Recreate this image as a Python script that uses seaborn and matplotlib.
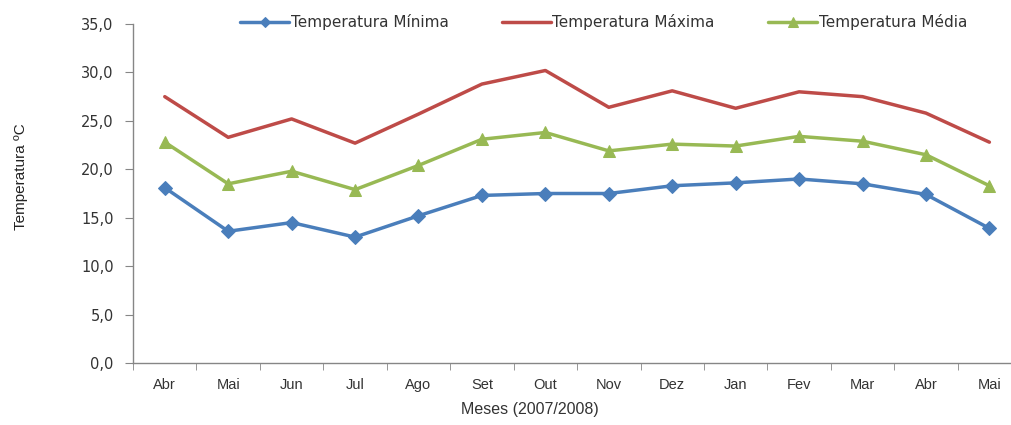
import matplotlib
matplotlib.use('Agg')
import matplotlib.pyplot as plt
import seaborn as sns
import pandas as pd
from matplotlib.ticker import FuncFormatter, MultipleLocator

meses = ['Abr', 'Mai', 'Jun', 'Jul', 'Ago', 'Set', 'Out', 'Nov', 'Dez',
         'Jan', 'Fev', 'Mar', 'Abr', 'Mai']
t_min = [18.1, 13.6, 14.5, 13.0, 15.2, 17.3, 17.5, 17.5, 18.3, 18.6, 19.0, 18.5, 17.4, 13.9]
t_max = [27.5, 23.3, 25.2, 22.7, 25.7, 28.8, 30.2, 26.4, 28.1, 26.3, 28.0, 27.5, 25.8, 22.8]
t_med = [22.8, 18.5, 19.8, 17.9, 20.4, 23.1, 23.8, 21.9, 22.6, 22.4, 23.4, 22.9, 21.5, 18.3]

series = ['Temperatura Mínima', 'Temperatura Máxima', 'Temperatura Média']
cores = ['#4a7ebb', '#be4b48', '#98b954']
marcadores = ['D', None, '^']

df = pd.DataFrame({'idx': list(range(len(meses))) * 3,
                   'temp': t_min + t_max + t_med,
                   'serie': [s for s in series for _ in meses]})

sns.set_style('white')
plt.rcParams['font.family'] = ['DejaVu Sans']

fig = plt.figure(figsize=(10.11, 4.25), dpi=100)
ax = fig.add_axes([0.1316, 0.1459, 0.8784, 0.7976])

for s, c, m in zip(series, cores, marcadores):
    sub = df[df['serie'] == s]
    sns.lineplot(data=sub, x='idx', y='temp', ax=ax, color=c, lw=2.5,
                 marker=m, markersize=7 if m == 'D' else 9, markeredgecolor=c,
                 label=s)

ax.set_xlim(-0.5, len(meses) - 0.5)
ax.set_ylim(0, 35)
ax.yaxis.set_major_locator(MultipleLocator(5))
ax.yaxis.set_major_formatter(FuncFormatter(lambda v, p: f'{v:.1f}'.replace('.', ',')))
ax.set_xticks(range(len(meses)))
ax.set_xticklabels(meses, fontfamily='Liberation Sans', fontsize=10.5, color='#333333')
ax.set_xticks([i - 0.5 for i in range(len(meses) + 1)], minor=True)
ax.tick_params(axis='x', which='major', length=0, pad=11)
ax.tick_params(axis='x', which='minor', length=5, color='#868686')
ax.tick_params(axis='y', length=6, color='#868686', labelsize=10.5, labelcolor='#333333', pad=8)
ax.tick_params(axis='y', left=True)
ax.tick_params(axis='x', bottom=True, which='minor')

for sp in ['top', 'right']:
    ax.spines[sp].set_visible(False)
for sp in ['left', 'bottom']:
    ax.spines[sp].set_color('#868686')
    ax.spines[sp].set_linewidth(1.0)

ax.set_xlabel('Meses (2007/2008)', fontfamily='Liberation Sans', fontsize=11.5, color='#333333')
ax.xaxis.set_label_coords(0.447, -0.115)
ax.set_ylabel('Temperatura ºC', fontfamily='Liberation Sans', fontsize=11, color='#222222')
ax.yaxis.set_label_coords(-0.118, 0.55)

ax.legend(loc='upper center', bbox_to_anchor=(0.53, 1.07), ncol=3, frameon=False,
          fontsize=11, handlelength=3.2, columnspacing=3.5, handletextpad=0.1,
          labelcolor='#333333', markerscale=0.8)

plt.savefig('out.png', dpi=100)
plt.close()
